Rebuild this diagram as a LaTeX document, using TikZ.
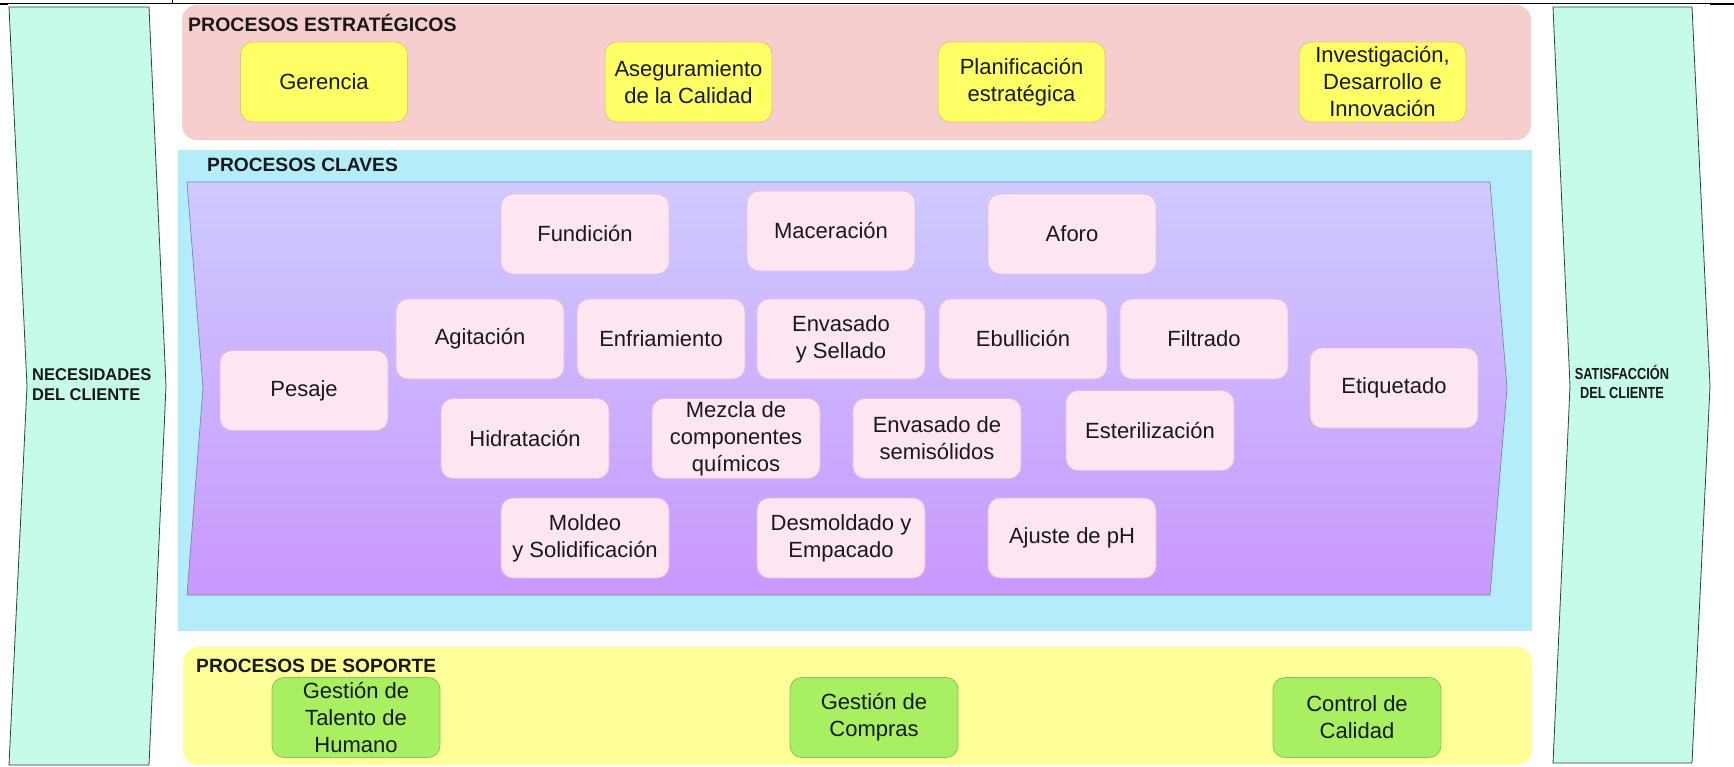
\documentclass[tikz,border=0pt]{standalone}
\usepackage{fontspec}
\setmainfont{Liberation Sans}
\definecolor{stratbg}{RGB}{246,206,206}
\definecolor{keybg}{RGB}{180,236,250}
\definecolor{supbg}{RGB}{255,255,153}
\definecolor{sidefill}{RGB}{198,252,231}
\definecolor{sideline}{RGB}{40,70,55}
\definecolor{purtop}{RGB}{206,202,255}
\definecolor{purbot}{RGB}{201,152,253}
\definecolor{purline}{RGB}{130,130,170}
\definecolor{stratfill}{RGB}{255,255,102}
\definecolor{stratedge}{RGB}{232,196,120}
\definecolor{keyfill}{RGB}{253,230,242}
\definecolor{keyedge}{RGB}{240,186,216}
\definecolor{supfill}{RGB}{168,240,98}
\definecolor{supedge}{RGB}{140,192,100}
\definecolor{ink}{RGB}{25,25,25}
\newcommand\bxfont{\fontsize{22}{27}\selectfont}
\newcommand\hdfont{\fontsize{19.2}{22}\selectfont\bfseries}
\tikzset{
  procbox/.style={draw=keyedge, fill=keyfill, rounded corners=12pt,
    minimum width=168pt, minimum height=80pt, align=center, text=ink,
    font=\bxfont, inner sep=2pt, line width=0.8pt},
  stratbox/.style={procbox, draw=stratedge, fill=stratfill, minimum width=167pt},
  supbox/.style={procbox, draw=supedge, fill=supfill},
  grouplabel/.style={font=\hdfont, text=ink, anchor=base west, inner sep=0pt},
  sidebox/.style={fill=sidefill, draw=sideline, line width=0.8pt},
}
\begin{document}
\begin{tikzpicture}[x=1pt, y=-1pt]
\useasboundingbox (0,0) rectangle (1734,767);
\fill[white] (0,0) rectangle (1734,767);

% frame line along the top edge
\draw[line width=1pt] (0,3.5) -- (1734,3.5);
\draw[line width=2pt] (0,3.8) -- (8,3.8);
\draw[line width=2pt] (1710,4) -- (1734,4);
\draw[line width=1pt] (172,0) -- (172,3.5);

% side chevrons
\path[sidebox] (9,7) -- (149,7) -- (166,386) -- (149,765) -- (9,765) -- (27,386) -- cycle;
\path[sidebox] (1553,7) -- (1692,7) -- (1710,386) -- (1692,763) -- (1553,763) -- (1570,386) -- cycle;
\node[font=\fontsize{17}{20}\selectfont\bfseries, text=ink, align=left, anchor=west,
  inner sep=0pt, xscale=0.97, transform shape]
  (needs) at (32,385) {NECESIDADES\\DEL CLIENTE};
\node[font=\fontsize{16}{18.5}\selectfont\bfseries, text=ink, align=center, inner sep=0pt,
  xscale=0.8, transform shape]
  (satis) at (1622,382) {SATISFACCIÓN\\DEL CLIENTE};

% group backgrounds
\fill[stratbg, rounded corners=15pt] (182,5) rectangle (1531,140);
\fill[keybg] (178,150) rectangle (1532,631);
\fill[supbg, rounded corners=15pt] (183,647) rectangle (1532,765);
\path[top color=purtop, bottom color=purbot, draw=purline, line width=0.7pt]
  (187,182) -- (1490,182) -- (1507,388) -- (1490,595) -- (187,595) -- (203,388) -- cycle;

% group titles
\node[grouplabel, font=\fontsize{19.5}{22}\selectfont\bfseries] (tstrat) at (188,32) {PROCESOS ESTRATÉGICOS};
\node[grouplabel] (tkey) at (207,172) {PROCESOS CLAVES};
\node[grouplabel] (tsup) at (196,672) {PROCESOS DE SOPORTE};

% strategic processes
\node[stratbox] (ger) at (324,82) {Gerencia};
\node[stratbox] (aseg) at (688.5,82) {Aseguramiento\\de la Calidad};
\node[stratbox] (plan) at (1021.5,82) {Planificación\\estratégica};
\node[stratbox] (idi) at (1382.5,82) {Investigación,\\Desarrollo e\\Innovación};

% key processes
\node[procbox] (fund) at (585,234) {Fundición};
\node[procbox] (mace) at (831,231) {Maceración};
\node[procbox] (afor) at (1072,234) {Aforo};
\node[procbox] (agit) at (480,339) {Agitación};
\node[procbox] (enfr) at (661,339) {Enfriamiento};
\node[procbox] (envs) at (841,339) {Envasado\\y Sellado};
\node[procbox] (ebul) at (1023,339) {Ebullición};
\node[procbox] (filt) at (1204,339) {Filtrado};
\node[procbox] (pesa) at (304,390.5) {Pesaje};
\node[procbox] (etiq) at (1394,388) {Etiquetado};
\node[procbox] (hidr) at (525,438.5) {Hidratación};
\node[procbox] (mezc) at (736,438.5) {Mezcla de\\componentes\\químicos};
\node[procbox] (semi) at (937,438.5) {Envasado de\\semisólidos};
\node[procbox] (este) at (1150,430.5) {Esterilización};
\node[procbox] (mold) at (585,538) {Moldeo\\y Solidificación};
\node[procbox] (desm) at (841,538) {Desmoldado y\\Empacado};
\node[procbox] (ajus) at (1072,538) {Ajuste de pH};

% support processes
\node[supbox] (tale) at (356,717.5) {Gestión de\\Talento de\\Humano};
\node[supbox] (comp) at (874,717.5) {Gestión de\\Compras};
\node[supbox] (cont) at (1357,717.5) {Control de\\Calidad};
\end{tikzpicture}
\end{document}
